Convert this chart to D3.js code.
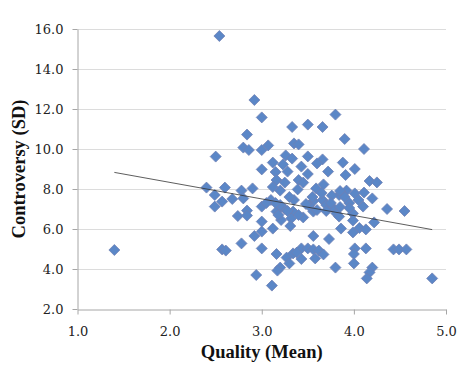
<!DOCTYPE html>
<html lang="en">
<head>
    <meta charset="UTF-8">
    <title>Quality vs Controversy</title>
    <script src="https://d3js.org/d3.v7.min.js"></script>
    <style>
        body { margin: 0; background: #fff; }
        svg { display: block; }
    </style>
</head>
<body>
    <script>
        // data
        const quality = [
            2.54, 1.40, 2.92, 3.00, 2.84, 3.80, 3.50, 3.66, 3.33, 3.90,
            4.11, 2.50, 2.80, 2.86, 3.00, 3.07, 3.35, 3.40, 3.26, 3.33,
            3.50, 3.66, 3.60, 3.88, 4.01, 3.00, 3.12, 3.23, 3.43, 3.28,
            3.72, 3.91, 3.15, 3.50, 3.16, 3.25, 3.40, 3.45, 4.17, 4.25,
            3.67, 2.40, 2.60, 2.90, 3.20, 3.39, 3.59, 2.78, 3.92, 4.01,
            4.11, 3.84, 3.76, 2.49, 2.80, 2.68, 2.57, 3.10, 3.35, 3.56,
            3.66, 4.20, 4.05, 2.49, 3.00, 3.25, 3.51, 3.78, 4.10, 4.36,
            4.55, 2.84, 2.74, 2.84, 3.16, 3.34, 3.56, 3.81, 3.99, 3.32,
            3.45, 3.21, 3.00, 3.84, 3.99, 4.22, 3.31, 3.12, 3.86, 4.06,
            4.13, 3.00, 3.99, 2.92, 3.56, 3.73, 2.78, 3.00, 2.57, 2.61,
            3.43, 3.50, 3.56, 3.62, 4.01, 4.13, 4.43, 4.49, 4.57, 3.16,
            3.67, 4.00, 3.34, 3.38, 3.27, 3.43, 3.58, 3.30, 4.00, 3.80,
            4.20, 3.20, 3.17, 4.17, 4.14, 2.94, 3.11, 4.85,
            3.65, 3.55, 3.70, 3.75, 3.48, 3.30, 3.20, 3.15, 3.85, 3.95,
            3.60, 3.40, 3.28, 3.05, 3.12, 3.85, 3.90, 3.18, 3.70, 3.95
        ];
        const controversy = [
            15.65, 4.95, 12.45, 11.58, 10.72, 11.72, 11.22, 11.10, 11.10, 10.50,
            10.00, 9.62, 10.07, 9.95, 9.95, 10.18, 10.28, 10.23, 9.68, 9.52,
            9.63, 9.48, 9.28, 9.32, 9.00, 8.98, 9.32, 9.23, 9.12, 8.87,
            8.87, 8.70, 8.85, 8.75, 8.45, 8.32, 8.45, 8.32, 8.40, 8.33,
            8.23, 8.07, 8.07, 8.03, 7.92, 7.98, 8.03, 7.92, 7.92, 7.78,
            7.82, 7.70, 7.67, 7.70, 7.53, 7.50, 7.37, 7.45, 7.45, 7.40,
            7.45, 7.53, 7.45, 7.12, 7.12, 7.00, 7.17, 7.03, 7.12, 7.00,
            6.90, 6.92, 6.65, 6.67, 6.87, 6.87, 6.87, 6.78, 6.78, 6.53,
            6.58, 6.45, 6.37, 6.62, 6.42, 6.33, 6.15, 6.02, 6.02, 6.05,
            5.98, 5.87, 5.83, 5.65, 5.65, 5.50, 5.28, 5.03, 4.98, 4.92,
            5.03, 5.03, 4.98, 4.92, 5.03, 5.03, 4.98, 4.98, 4.98, 4.75,
            4.73, 4.75, 4.78, 4.82, 4.57, 4.50, 4.53, 4.28, 4.28, 4.07,
            4.07, 4.07, 3.92, 3.83, 3.53, 3.70, 3.17, 3.53,
            7.80, 7.60, 7.20, 7.30, 7.25, 7.60, 7.20, 7.30, 7.10, 7.30,
            6.95, 6.70, 6.90, 7.30, 8.10, 7.90, 7.60, 6.70, 6.90, 7.05
        ];
        // linear trend line end points
        const trendX = [1.4, 4.85];
        const trendY = [8.83, 5.97];
        const xTicks = [1.0, 2.0, 3.0, 4.0, 5.0];
        const yTicks = [2.0, 4.0, 6.0, 8.0, 10.0, 12.0, 14.0, 16.0];

        const w = 460;
        const h = 366;
        const padLeft = 77.5;
        const padRight = 446;
        const padTop = 29;
        const padBottom = 309;
        const serif = "'Liberation Serif', 'DejaVu Serif', serif";
        const tickFont = "'DejaVu Serif', 'Liberation Serif', serif";

        const svg = d3.select("body").append("svg")
            .attr("width", w)
            .attr("height", h);

        const x = d3.scaleLinear().domain([1, 5]).range([padLeft, padRight]);
        const y = d3.scaleLinear().domain([2, 16]).range([padBottom, padTop]);

        // grid lines
        svg.append("g")
            .selectAll("line")
            .data(yTicks.slice(1))
            .enter()
            .append("line")
            .attr("x1", padLeft)
            .attr("x2", padRight)
            .attr("y1", d => Math.round(y(d)) + 0.5)
            .attr("y2", d => Math.round(y(d)) + 0.5)
            .attr("stroke", "#dcdcdc")
            .attr("stroke-width", 1);

        // axes
        const xAxis = d3.axisBottom(x).tickValues(xTicks).tickFormat(d3.format(".1f")).tickSize(5).tickSizeOuter(0);
        const yAxis = d3.axisLeft(y).tickValues(yTicks).tickFormat(d3.format(".1f")).tickSize(5).tickSizeOuter(0);

        const gx = svg.append("g")
            .attr("transform", `translate(0,${padBottom + 0.5})`)
            .call(xAxis);
        const gy = svg.append("g")
            .attr("transform", `translate(${padLeft},0)`)
            .call(yAxis);

        [gx, gy].forEach(g => {
            g.select(".domain").attr("stroke", "#a6a6a6");
            g.selectAll(".tick line").attr("stroke", "#a6a6a6");
            g.selectAll(".tick text")
                .attr("fill", "#222")
                .style("font-family", tickFont)
                .style("font-size", "13px");
        });
        gx.selectAll(".tick text").attr("dy", "1.45em");
        gy.selectAll(".tick text").attr("x", -14);

        // points
        const pts = quality.map((q, i) => [q, controversy[i]]);
        svg.append("g")
            .selectAll("path")
            .data(pts)
            .enter()
            .append("path")
            .attr("d", "M0,-5.5L5.5,0L0,5.5L-5.5,0Z")
            .attr("transform", d => `translate(${x(d[0])},${y(d[1])})`)
            .attr("fill", "#5b87c7")
            .attr("stroke", "#7080b4")
            .attr("stroke-width", 0.8);

        // trend line
        svg.append("line")
            .attr("x1", x(trendX[0]))
            .attr("y1", y(trendY[0]))
            .attr("x2", x(trendX[1]))
            .attr("y2", y(trendY[1]))
            .attr("stroke", "#333")
            .attr("stroke-width", 0.8);

        // axis titles
        svg.append("text")
            .attr("x", (padLeft + padRight) / 2)
            .attr("y", 358)
            .attr("text-anchor", "middle")
            .style("font-family", serif)
            .style("font-weight", "bold")
            .style("font-size", "18.5px")
            .attr("fill", "#111")
            .text("Quality (Mean)");

        svg.append("text")
            .attr("transform", `translate(25,${(padTop + padBottom) / 2}) rotate(-90)`)
            .attr("text-anchor", "middle")
            .style("font-family", serif)
            .style("font-weight", "bold")
            .style("font-size", "18.5px")
            .attr("fill", "#111")
            .text("Controversy (SD)");
    </script>
</body>
</html>
